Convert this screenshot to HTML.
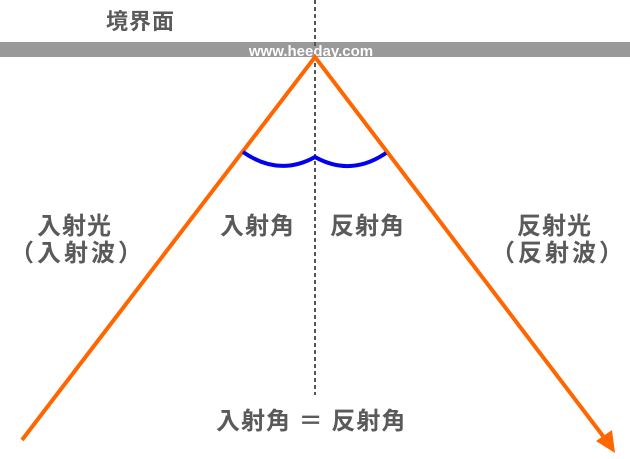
<!DOCTYPE html>
<html><head><meta charset="utf-8"><style>
body{margin:0;width:630px;height:454px;background:#fff;overflow:hidden}
svg text{font-family:"Liberation Sans","Noto Sans CJK JP",sans-serif;font-weight:bold;fill:#5a5a5a}
</style></head><body>
<svg width="630" height="454" xmlns="http://www.w3.org/2000/svg">
<rect x="0" y="42" width="630" height="15" fill="#999"/>
<line x1="315" y1="0" x2="315" y2="395" stroke="#555" stroke-width="2" stroke-dasharray="4,3"/>
<text x="311" y="56" text-anchor="middle" style="font-size:15px;fill:#fff">www.heeday.com</text>
<text x="106" y="29" style="font-size:22px;letter-spacing:1px">境界面</text>
<polyline points="22,440 315,57 606,440" fill="none" stroke="#ff6600" stroke-width="4"/>
<polygon points="615,453 596,441 612,430" fill="#ff6600"/>
<path d="M243,152 Q279,177 315,157 Q351,177 386,153" fill="none" stroke="#0000ee" stroke-width="4"/>
<text x="37" y="234" style="font-size:24px;letter-spacing:1px">入射光</text>
<text x="10" y="261" style="font-size:24px;letter-spacing:3px">（入射波）</text>
<text x="220" y="234" style="font-size:24px;letter-spacing:1px">入射角</text>
<text x="330" y="234" style="font-size:24px;letter-spacing:1px">反射角</text>
<text x="517" y="234" style="font-size:24px;letter-spacing:1px">反射光</text>
<text x="491" y="261" style="font-size:24px;letter-spacing:3px">（反射波）</text>
<text x="216" y="429" style="font-size:24px;letter-spacing:1px">入射角 ＝ 反射角</text>
</svg>
</body></html>
